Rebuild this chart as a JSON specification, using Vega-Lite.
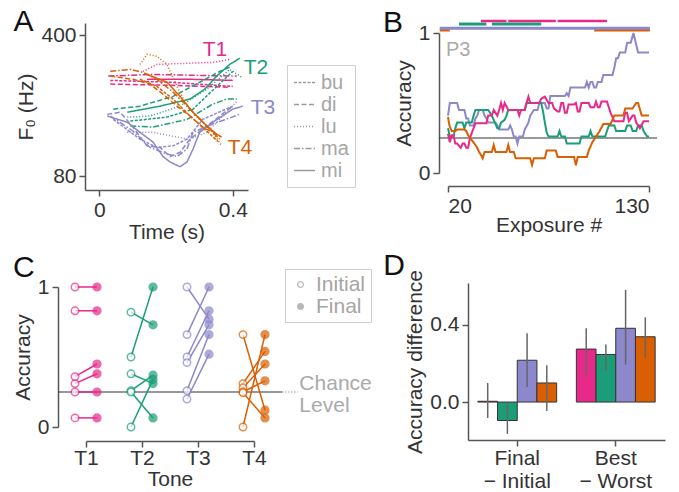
{
"$schema": "https://vega.github.io/schema/vega-lite/v6.json",
"autosize": {"type": "none"},
"padding": {"left": 85, "top": 23, "right": 594, "bottom": 469},
"background": "white",
"config": {
  "font": "Liberation Sans",
  "view": {"stroke": null},
  "axis": {"labelFontSize": 21, "titleFontSize": 21, "titleFontWeight": "normal", "labelColor": "#333", "titleColor": "#333", "domainColor": "#555", "tickColor": "#555", "domainWidth": 1.5, "tickWidth": 1.5, "tickSize": 6, "labelPadding": 3, "grid": false}
},
"resolve": {
  "scale": {"color": "independent", "fill": "independent", "stroke": "independent", "strokeDash": "independent"},
  "legend": {"color": "independent", "fill": "independent", "stroke": "independent", "strokeDash": "independent"}
},
"datasets": {
  "one": [{}],
  "f0": [
    {"k":"T1","s":"lu","t":0.131,"f":265},{"k":"T1","s":"lu","t":0.173,"f":287},{"k":"T1","s":"lu","t":0.272,"f":291},{"k":"T1","s":"lu","t":0.346,"f":294},{"k":"T1","s":"lu","t":0.391,"f":304},
    {"k":"T1","s":"ma","t":0.027,"f":251},{"k":"T1","s":"ma","t":0.152,"f":256},{"k":"T1","s":"ma","t":0.301,"f":253},{"k":"T1","s":"ma","t":0.412,"f":251},
    {"k":"T1","s":"di","t":0.033,"f":229},{"k":"T1","s":"di","t":0.212,"f":226},{"k":"T1","s":"di","t":0.391,"f":221},
    {"k":"T1","s":"mi","t":0.143,"f":242},{"k":"T1","s":"mi","t":0.272,"f":242},{"k":"T1","s":"mi","t":0.400,"f":239},
    {"k":"T1","s":"bu","t":0.033,"f":239},{"k":"T1","s":"bu","t":0.212,"f":234},{"k":"T1","s":"bu","t":0.400,"f":223},
    {"k":"T2","s":"mi","t":0.084,"f":166},{"k":"T2","s":"mi","t":0.182,"f":178},{"k":"T2","s":"mi","t":0.272,"f":193},{"k":"T2","s":"mi","t":0.316,"f":216},{"k":"T2","s":"mi","t":0.352,"f":251},{"k":"T2","s":"mi","t":0.391,"f":287},{"k":"T2","s":"mi","t":0.421,"f":308},
    {"k":"T2","s":"di","t":0.042,"f":172},{"k":"T2","s":"di","t":0.122,"f":178},{"k":"T2","s":"di","t":0.221,"f":199},{"k":"T2","s":"di","t":0.301,"f":234},{"k":"T2","s":"di","t":0.361,"f":265},{"k":"T2","s":"di","t":0.391,"f":278},
    {"k":"T2","s":"lu","t":0.084,"f":157},{"k":"T2","s":"lu","t":0.152,"f":159},{"k":"T2","s":"lu","t":0.242,"f":178},{"k":"T2","s":"lu","t":0.322,"f":216},{"k":"T2","s":"lu","t":0.391,"f":271},{"k":"T2","s":"lu","t":0.427,"f":248},
    {"k":"T2","s":"ma","t":0.093,"f":142},{"k":"T2","s":"ma","t":0.161,"f":140},{"k":"T2","s":"ma","t":0.263,"f":153},{"k":"T2","s":"ma","t":0.340,"f":182},{"k":"T2","s":"ma","t":0.382,"f":193},{"k":"T2","s":"ma","t":0.412,"f":193},
    {"k":"T2","s":"bu","t":0.093,"f":150},{"k":"T2","s":"bu","t":0.203,"f":157},{"k":"T2","s":"bu","t":0.281,"f":172},{"k":"T2","s":"bu","t":0.352,"f":223},{"k":"T2","s":"bu","t":0.400,"f":265},
    {"k":"T3","s":"mi","t":0.024,"f":159},{"k":"T3","s":"mi","t":0.084,"f":148},{"k":"T3","s":"mi","t":0.122,"f":132},{"k":"T3","s":"mi","t":0.161,"f":118},{"k":"T3","s":"mi","t":0.191,"f":100},{"k":"T3","s":"mi","t":0.212,"f":94},{"k":"T3","s":"mi","t":0.242,"f":89},{"k":"T3","s":"mi","t":0.263,"f":94},{"k":"T3","s":"mi","t":0.281,"f":109},{"k":"T3","s":"mi","t":0.301,"f":132},{"k":"T3","s":"mi","t":0.340,"f":148},{"k":"T3","s":"mi","t":0.400,"f":172},{"k":"T3","s":"mi","t":0.430,"f":178},
    {"k":"T3","s":"di","t":0.024,"f":162},{"k":"T3","s":"di","t":0.063,"f":166},{"k":"T3","s":"di","t":0.101,"f":140},{"k":"T3","s":"di","t":0.143,"f":113},{"k":"T3","s":"di","t":0.182,"f":111},{"k":"T3","s":"di","t":0.212,"f":100},{"k":"T3","s":"di","t":0.242,"f":105},{"k":"T3","s":"di","t":0.272,"f":122},{"k":"T3","s":"di","t":0.322,"f":142},{"k":"T3","s":"di","t":0.400,"f":178},
    {"k":"T3","s":"lu","t":0.084,"f":132},{"k":"T3","s":"lu","t":0.161,"f":132},{"k":"T3","s":"lu","t":0.221,"f":126},{"k":"T3","s":"lu","t":0.272,"f":122},{"k":"T3","s":"lu","t":0.322,"f":132},{"k":"T3","s":"lu","t":0.382,"f":166},{"k":"T3","s":"lu","t":0.412,"f":188},
    {"k":"T3","s":"ma","t":0.033,"f":159},{"k":"T3","s":"ma","t":0.101,"f":134},{"k":"T3","s":"ma","t":0.152,"f":111},{"k":"T3","s":"ma","t":0.203,"f":103},{"k":"T3","s":"ma","t":0.233,"f":100},{"k":"T3","s":"ma","t":0.263,"f":109},{"k":"T3","s":"ma","t":0.281,"f":132},{"k":"T3","s":"ma","t":0.340,"f":145},{"k":"T3","s":"ma","t":0.421,"f":162},
    {"k":"T3","s":"bu","t":0.042,"f":153},{"k":"T3","s":"bu","t":0.122,"f":122},{"k":"T3","s":"bu","t":0.173,"f":111},{"k":"T3","s":"bu","t":0.221,"f":113},{"k":"T3","s":"bu","t":0.263,"f":122},{"k":"T3","s":"bu","t":0.310,"f":153},{"k":"T3","s":"bu","t":0.400,"f":178},
    {"k":"T4","s":"mi","t":0.143,"f":256},{"k":"T4","s":"mi","t":0.203,"f":234},{"k":"T4","s":"mi","t":0.242,"f":199},{"k":"T4","s":"mi","t":0.281,"f":166},{"k":"T4","s":"mi","t":0.322,"f":142},{"k":"T4","s":"mi","t":0.352,"f":129},{"k":"T4","s":"mi","t":0.367,"f":125},
    {"k":"T4","s":"di","t":0.033,"f":251},{"k":"T4","s":"di","t":0.101,"f":242},{"k":"T4","s":"di","t":0.152,"f":229},{"k":"T4","s":"di","t":0.191,"f":204},{"k":"T4","s":"di","t":0.233,"f":178},{"k":"T4","s":"di","t":0.272,"f":159},{"k":"T4","s":"di","t":0.310,"f":140},{"k":"T4","s":"di","t":0.340,"f":132},{"k":"T4","s":"di","t":0.361,"f":126},
    {"k":"T4","s":"lu","t":0.122,"f":287},{"k":"T4","s":"lu","t":0.143,"f":322},{"k":"T4","s":"lu","t":0.173,"f":315},{"k":"T4","s":"lu","t":0.203,"f":287},{"k":"T4","s":"lu","t":0.233,"f":223},{"k":"T4","s":"lu","t":0.263,"f":178},{"k":"T4","s":"lu","t":0.301,"f":153},{"k":"T4","s":"lu","t":0.340,"f":132},{"k":"T4","s":"lu","t":0.367,"f":113},
    {"k":"T4","s":"ma","t":0.033,"f":265},{"k":"T4","s":"ma","t":0.093,"f":271},{"k":"T4","s":"ma","t":0.131,"f":262},{"k":"T4","s":"ma","t":0.173,"f":242},{"k":"T4","s":"ma","t":0.221,"f":209},{"k":"T4","s":"ma","t":0.272,"f":172},{"k":"T4","s":"ma","t":0.322,"f":142},{"k":"T4","s":"ma","t":0.361,"f":122},
    {"k":"T4","s":"bu","t":0.122,"f":242},{"k":"T4","s":"bu","t":0.173,"f":223},{"k":"T4","s":"bu","t":0.221,"f":193},{"k":"T4","s":"bu","t":0.272,"f":159},{"k":"T4","s":"bu","t":0.322,"f":134},{"k":"T4","s":"bu","t":0.355,"f":119}
  ],
  "f0lab": [
    {"k":"T1","t":0.310,"f":315},{"k":"T2","t":0.433,"f":256},{"k":"T3","t":0.454,"f":162},{"k":"T4","t":0.385,"f":103}
  ],
  "acc": [
    {"k":"T3","x":20,"a":0.41},{"k":"T3","x":21,"a":0.5},{"k":"T3","x":25,"a":0.5},{"k":"T3","x":26,"a":0.45},{"k":"T3","x":29,"a":0.45},{"k":"T3","x":30,"a":0.39},{"k":"T3","x":31,"a":0.39},{"k":"T3","x":32,"a":0.34},{"k":"T3","x":34,"a":0.34},{"k":"T3","x":35,"a":0.39},{"k":"T3","x":36,"a":0.41},{"k":"T3","x":37,"a":0.45},{"k":"T3","x":39,"a":0.45},{"k":"T3","x":40,"a":0.41},{"k":"T3","x":41,"a":0.39},{"k":"T3","x":42,"a":0.36},{"k":"T3","x":46,"a":0.36},{"k":"T3","x":47,"a":0.34},{"k":"T3","x":48,"a":0.31},{"k":"T3","x":53,"a":0.31},{"k":"T3","x":54,"a":0.34},{"k":"T3","x":55,"a":0.31},{"k":"T3","x":56,"a":0.26},{"k":"T3","x":57,"a":0.26},{"k":"T3","x":58,"a":0.21},{"k":"T3","x":59,"a":0.26},{"k":"T3","x":61,"a":0.26},{"k":"T3","x":62,"a":0.31},{"k":"T3","x":64,"a":0.36},{"k":"T3","x":65,"a":0.41},{"k":"T3","x":67,"a":0.45},{"k":"T3","x":69,"a":0.45},{"k":"T3","x":70,"a":0.5},{"k":"T3","x":73,"a":0.5},{"k":"T3","x":74,"a":0.46},{"k":"T3","x":75,"a":0.46},{"k":"T3","x":76,"a":0.55},{"k":"T3","x":84,"a":0.55},{"k":"T3","x":85,"a":0.57},{"k":"T3","x":86,"a":0.55},{"k":"T3","x":87,"a":0.61},{"k":"T3","x":95,"a":0.61},{"k":"T3","x":96,"a":0.65},{"k":"T3","x":97,"a":0.61},{"k":"T3","x":98,"a":0.65},{"k":"T3","x":99,"a":0.65},{"k":"T3","x":100,"a":0.61},{"k":"T3","x":101,"a":0.61},{"k":"T3","x":102,"a":0.65},{"k":"T3","x":104,"a":0.65},{"k":"T3","x":105,"a":0.7},{"k":"T3","x":110,"a":0.7},{"k":"T3","x":111,"a":0.75},{"k":"T3","x":112,"a":0.82},{"k":"T3","x":113,"a":0.82},{"k":"T3","x":114,"a":0.86},{"k":"T3","x":117,"a":0.86},{"k":"T3","x":118,"a":0.93},{"k":"T3","x":120,"a":0.93},{"k":"T3","x":121.5,"a":1.0},{"k":"T3","x":124,"a":0.86},{"k":"T3","x":130,"a":0.86},
    {"k":"T2","x":20,"a":0.32},{"k":"T2","x":21,"a":0.26},{"k":"T2","x":23,"a":0.26},{"k":"T2","x":24,"a":0.32},{"k":"T2","x":25,"a":0.36},{"k":"T2","x":28,"a":0.36},{"k":"T2","x":29,"a":0.32},{"k":"T2","x":30,"a":0.36},{"k":"T2","x":33,"a":0.36},{"k":"T2","x":34,"a":0.41},{"k":"T2","x":35,"a":0.45},{"k":"T2","x":42,"a":0.45},{"k":"T2","x":44,"a":0.41},{"k":"T2","x":45,"a":0.38},{"k":"T2","x":47,"a":0.32},{"k":"T2","x":48,"a":0.32},{"k":"T2","x":49,"a":0.36},{"k":"T2","x":51,"a":0.38},{"k":"T2","x":52,"a":0.41},{"k":"T2","x":53,"a":0.45},{"k":"T2","x":62,"a":0.45},{"k":"T2","x":63,"a":0.5},{"k":"T2","x":71,"a":0.5},{"k":"T2","x":72,"a":0.44},{"k":"T2","x":73,"a":0.36},{"k":"T2","x":74,"a":0.29},{"k":"T2","x":75,"a":0.26},{"k":"T2","x":80,"a":0.26},{"k":"T2","x":81,"a":0.3},{"k":"T2","x":82,"a":0.26},{"k":"T2","x":84,"a":0.26},{"k":"T2","x":85,"a":0.21},{"k":"T2","x":92,"a":0.21},{"k":"T2","x":93,"a":0.26},{"k":"T2","x":97,"a":0.26},{"k":"T2","x":98,"a":0.3},{"k":"T2","x":99,"a":0.26},{"k":"T2","x":106,"a":0.26},{"k":"T2","x":108,"a":0.34},{"k":"T2","x":111,"a":0.34},{"k":"T2","x":112,"a":0.3},{"k":"T2","x":117,"a":0.3},{"k":"T2","x":118,"a":0.34},{"k":"T2","x":120,"a":0.34},{"k":"T2","x":121,"a":0.3},{"k":"T2","x":123,"a":0.3},{"k":"T2","x":124,"a":0.34},{"k":"T2","x":126,"a":0.34},{"k":"T2","x":127,"a":0.3},{"k":"T2","x":129,"a":0.26},{"k":"T2","x":130,"a":0.26},
    {"k":"T1","x":20,"a":0.28},{"k":"T1","x":21,"a":0.22},{"k":"T1","x":22,"a":0.27},{"k":"T1","x":23,"a":0.27},{"k":"T1","x":24,"a":0.21},{"k":"T1","x":25,"a":0.21},{"k":"T1","x":27,"a":0.18},{"k":"T1","x":28,"a":0.21},{"k":"T1","x":29,"a":0.21},{"k":"T1","x":30,"a":0.18},{"k":"T1","x":31,"a":0.18},{"k":"T1","x":32,"a":0.25},{"k":"T1","x":34,"a":0.32},{"k":"T1","x":35,"a":0.355},{"k":"T1","x":41,"a":0.355},{"k":"T1","x":42,"a":0.41},{"k":"T1","x":44,"a":0.41},{"k":"T1","x":45,"a":0.45},{"k":"T1","x":47,"a":0.41},{"k":"T1","x":48,"a":0.45},{"k":"T1","x":49,"a":0.5},{"k":"T1","x":50,"a":0.45},{"k":"T1","x":51,"a":0.5},{"k":"T1","x":53,"a":0.45},{"k":"T1","x":58,"a":0.45},{"k":"T1","x":59,"a":0.41},{"k":"T1","x":60,"a":0.45},{"k":"T1","x":62,"a":0.45},{"k":"T1","x":63,"a":0.5},{"k":"T1","x":64,"a":0.545},{"k":"T1","x":65,"a":0.5},{"k":"T1","x":70,"a":0.5},{"k":"T1","x":71,"a":0.53},{"k":"T1","x":73,"a":0.545},{"k":"T1","x":75,"a":0.5},{"k":"T1","x":77,"a":0.5},{"k":"T1","x":78,"a":0.46},{"k":"T1","x":80,"a":0.44},{"k":"T1","x":81,"a":0.44},{"k":"T1","x":82,"a":0.5},{"k":"T1","x":83,"a":0.5},{"k":"T1","x":84,"a":0.43},{"k":"T1","x":85,"a":0.43},{"k":"T1","x":86,"a":0.49},{"k":"T1","x":89,"a":0.49},{"k":"T1","x":90,"a":0.5},{"k":"T1","x":91,"a":0.44},{"k":"T1","x":92,"a":0.44},{"k":"T1","x":93,"a":0.5},{"k":"T1","x":97,"a":0.5},{"k":"T1","x":98,"a":0.47},{"k":"T1","x":100,"a":0.47},{"k":"T1","x":101,"a":0.51},{"k":"T1","x":102,"a":0.47},{"k":"T1","x":103,"a":0.47},{"k":"T1","x":104,"a":0.51},{"k":"T1","x":107,"a":0.51},{"k":"T1","x":108,"a":0.47},{"k":"T1","x":109,"a":0.43},{"k":"T1","x":111,"a":0.37},{"k":"T1","x":116,"a":0.37},{"k":"T1","x":117,"a":0.43},{"k":"T1","x":118,"a":0.43},{"k":"T1","x":119,"a":0.37},{"k":"T1","x":121,"a":0.41},{"k":"T1","x":122,"a":0.41},{"k":"T1","x":123,"a":0.36},{"k":"T1","x":125,"a":0.32},{"k":"T1","x":127,"a":0.37},{"k":"T1","x":130,"a":0.37},
    {"k":"T4","x":20,"a":0.4},{"k":"T4","x":20.5,"a":0.36},{"k":"T4","x":21,"a":0.33},{"k":"T4","x":22,"a":0.3},{"k":"T4","x":24,"a":0.3},{"k":"T4","x":25,"a":0.31},{"k":"T4","x":29,"a":0.31},{"k":"T4","x":30,"a":0.3},{"k":"T4","x":31,"a":0.27},{"k":"T4","x":32,"a":0.25},{"k":"T4","x":33,"a":0.235},{"k":"T4","x":35,"a":0.2},{"k":"T4","x":36,"a":0.18},{"k":"T4","x":37,"a":0.15},{"k":"T4","x":38,"a":0.13},{"k":"T4","x":39,"a":0.105},{"k":"T4","x":40,"a":0.15},{"k":"T4","x":44,"a":0.15},{"k":"T4","x":45,"a":0.2},{"k":"T4","x":46,"a":0.15},{"k":"T4","x":52,"a":0.15},{"k":"T4","x":53,"a":0.2},{"k":"T4","x":54,"a":0.15},{"k":"T4","x":56,"a":0.15},{"k":"T4","x":57,"a":0.105},{"k":"T4","x":65,"a":0.105},{"k":"T4","x":66,"a":0.057},{"k":"T4","x":67,"a":0.105},{"k":"T4","x":73,"a":0.105},{"k":"T4","x":74,"a":0.16},{"k":"T4","x":79,"a":0.16},{"k":"T4","x":80,"a":0.115},{"k":"T4","x":89,"a":0.115},{"k":"T4","x":90,"a":0.055},{"k":"T4","x":91,"a":0.115},{"k":"T4","x":96,"a":0.115},{"k":"T4","x":97,"a":0.16},{"k":"T4","x":99,"a":0.22},{"k":"T4","x":101,"a":0.26},{"k":"T4","x":103,"a":0.3},{"k":"T4","x":105,"a":0.35},{"k":"T4","x":109,"a":0.35},{"k":"T4","x":111,"a":0.41},{"k":"T4","x":116,"a":0.41},{"k":"T4","x":117,"a":0.46},{"k":"T4","x":121,"a":0.46},{"k":"T4","x":123,"a":0.5},{"k":"T4","x":124,"a":0.5},{"k":"T4","x":126,"a":0.41},{"k":"T4","x":130,"a":0.41}
  ],
  "sig": [
    {"k":"T1","s":38,"e":52},{"k":"T1","s":53,"e":79},{"k":"T1","s":80,"e":107},
    {"k":"T2","s":26,"e":41},{"k":"T2","s":44,"e":71},
    {"k":"T3","s":15.5,"e":130.5},
    {"k":"T4","s":15.5,"e":21},{"k":"T4","s":100,"e":130.5}
  ],
  "pairs": [
    {"k":"T1","p":"a","Initial":1,"Final":1},{"k":"T1","p":"b","Initial":0.83,"Final":0.83},{"k":"T1","p":"c","Initial":0.36,"Final":0.45},{"k":"T1","p":"d","Initial":0.31,"Final":0.38},{"k":"T1","p":"e","Initial":0.25,"Final":0.25},{"k":"T1","p":"f","Initial":0.065,"Final":0.065},
    {"k":"T2","p":"a","Initial":0.82,"Final":0.73},{"k":"T2","p":"b","Initial":0.5,"Final":1},{"k":"T2","p":"c","Initial":0.38,"Final":0.31},{"k":"T2","p":"d","Initial":0.26,"Final":0.37},{"k":"T2","p":"e","Initial":0.25,"Final":0.065},{"k":"T2","p":"f","Initial":0.0,"Final":0.34},
    {"k":"T3","p":"a","Initial":1,"Final":0.77},{"k":"T3","p":"b","Initial":0.66,"Final":1},{"k":"T3","p":"c","Initial":0.5,"Final":0.83},{"k":"T3","p":"d","Initial":0.46,"Final":0.73},{"k":"T3","p":"e","Initial":0.26,"Final":0.66},{"k":"T3","p":"f","Initial":0.2,"Final":0.52},
    {"k":"T4","p":"a","Initial":0.66,"Final":0.12},{"k":"T4","p":"b","Initial":0.0,"Final":0.66},{"k":"T4","p":"c","Initial":0.31,"Final":0.54},{"k":"T4","p":"d","Initial":0.28,"Final":0.45},{"k":"T4","p":"e","Initial":0.25,"Final":0.33},{"k":"T4","p":"f","Initial":0.245,"Final":0.065}
  ],
  "diff": [
    {"g":"Final − Initial","k":"T1","v":0.004,"lo":-0.083,"hi":0.099},
    {"g":"Final − Initial","k":"T2","v":-0.096,"lo":-0.165,"hi":-0.003},
    {"g":"Final − Initial","k":"T3","v":0.217,"lo":0.078,"hi":0.357},
    {"g":"Final − Initial","k":"T4","v":0.099,"lo":-0.047,"hi":0.191},
    {"g":"Best − Worst","k":"T1","v":0.275,"lo":0.134,"hi":0.383},
    {"g":"Best − Worst","k":"T2","v":0.247,"lo":0.162,"hi":0.299},
    {"g":"Best − Worst","k":"T3","v":0.383,"lo":0.195,"hi":0.583},
    {"g":"Best − Worst","k":"T4","v":0.339,"lo":0.23,"hi":0.44}
  ]
},
"columns": 2,
"spacing": {"row": 93, "column": 186},
"bounds": "flush",
"align": "all",
"concat": [
  {
    "width": 163, "height": 167,
    "layer": [
      {
        "data": {"name": "f0"},
        "mark": {"type": "line", "strokeWidth": 1.5},
        "encoding": {
          "x": {"field": "t", "type": "quantitative", "scale": {"domain": [-0.0427, 0.4457], "nice": false, "zero": false}, "axis": {"values": [0, 0.4], "title": "Time (s)", "titlePadding": 1, "labelExpr": "datum.value == 0 ? '0' : '0.4'"}},
          "y": {"field": "f", "type": "quantitative", "scale": {"type": "log", "domain": [68.2, 460.8], "nice": false}, "axis": {"values": [80, 400], "format": "d", "title": "F₀ (Hz)"}},
          "color": {"field": "k", "type": "nominal", "scale": {"domain": ["T1","T2","T3","T4"], "range": ["#e7298a","#1b9e77","#8d87cb","#d95f02"]}, "legend": null},
          "strokeDash": {"field": "s", "type": "nominal", "scale": {"domain": ["bu","di","lu","ma","mi"], "range": [[3,1.5],[5,2.5],[1,2],[6,2,1.5,2],[1,0]]},
            "legend": {"orient": "none", "legendX": 202, "legendY": 42, "title": null, "strokeColor": "#cfcfcf", "fillColor": "white", "padding": 6, "symbolType": "stroke", "symbolStrokeColor": "#9a9a9a", "symbolStrokeWidth": 1.5, "symbolSize": 440, "labelFontSize": 20, "labelColor": "#a5a5a5", "labelOffset": 5, "rowPadding": 0}}
        }
      },
      {
        "data": {"name": "f0lab"},
        "mark": {"type": "text", "align": "left", "baseline": "alphabetic", "fontSize": 21},
        "encoding": {
          "x": {"field": "t", "type": "quantitative"},
          "y": {"field": "f", "type": "quantitative"},
          "text": {"field": "k"},
          "color": {"field": "k", "type": "nominal", "legend": null}
        }
      },
      {
        "data": {"name": "one"},
        "mark": {"type": "text", "align": "left", "baseline": "alphabetic", "fontSize": 30, "color": "#111"},
        "encoding": {
          "x": {"datum": -0.257, "type": "quantitative"},
          "y": {"datum": 419, "type": "quantitative"},
          "text": {"value": "A"}
        }
      }
    ]
  },
  {
    "width": 189, "height": 163,
    "layer": [
      {
        "data": {"name": "one"},
        "mark": {"type": "rule", "color": "#333", "strokeWidth": 1.2},
        "encoding": {
          "x": {"datum": 15.07, "type": "quantitative", "scale": {"domain": [20, 130], "range": [-20, 181], "nice": false, "zero": false}, "axis": {"values": [20, 130], "title": "Exposure #", "titlePadding": -2}},
          "x2": {"datum": 134.39},
          "y": {"datum": 0.25, "type": "quantitative", "scale": {"domain": [0, 1], "range": [150, 10], "nice": false, "zero": false}, "axis": {"values": [0, 1], "format": "d", "title": "Accuracy", "offset": 29}}
        }
      },
      {
        "data": {"name": "acc"},
        "mark": {"type": "line", "strokeWidth": 2},
        "encoding": {
          "x": {"field": "x", "type": "quantitative"},
          "y": {"field": "a", "type": "quantitative"},
          "color": {"field": "k", "type": "nominal", "scale": {"domain": ["T1","T2","T3","T4"], "range": ["#e7298a","#1b9e77","#8d87cb","#d95f02"]}, "legend": null}
        }
      },
      {
        "data": {"name": "sig"},
        "transform": [{"filter": "datum.k == 'T4'"}],
        "mark": {"type": "rule", "strokeWidth": 3, "strokeCap": "butt", "color": "#d95f02"},
        "encoding": {"x": {"field": "s", "type": "quantitative"}, "x2": {"field": "e"}, "y": {"datum": 1.0214, "type": "quantitative"}}
      },
      {
        "data": {"name": "sig"},
        "transform": [{"filter": "datum.k == 'T3'"}],
        "mark": {"type": "rule", "strokeWidth": 3, "strokeCap": "butt", "color": "#8d87cb"},
        "encoding": {"x": {"field": "s", "type": "quantitative"}, "x2": {"field": "e"}, "y": {"datum": 1.0336, "type": "quantitative"}}
      },
      {
        "data": {"name": "sig"},
        "transform": [{"filter": "datum.k == 'T2'"}],
        "mark": {"type": "rule", "strokeWidth": 3, "strokeCap": "butt", "color": "#1b9e77"},
        "encoding": {"x": {"field": "s", "type": "quantitative"}, "x2": {"field": "e"}, "y": {"datum": 1.064, "type": "quantitative"}}
      },
      {
        "data": {"name": "sig"},
        "transform": [{"filter": "datum.k == 'T1'"}],
        "mark": {"type": "rule", "strokeWidth": 2.5, "strokeCap": "butt", "color": "#e7298a"},
        "encoding": {"x": {"field": "s", "type": "quantitative"}, "x2": {"field": "e"}, "y": {"datum": 1.0857, "type": "quantitative"}}
      },
      {
        "data": {"name": "one"},
        "mark": {"type": "text", "align": "left", "baseline": "alphabetic", "fontSize": 20, "color": "#aaa"},
        "encoding": {
          "x": {"datum": 18.9, "type": "quantitative"},
          "y": {"datum": 0.836, "type": "quantitative"},
          "text": {"value": "P3"}
        }
      },
      {
        "data": {"name": "one"},
        "mark": {"type": "text", "align": "left", "baseline": "alphabetic", "fontSize": 30, "color": "#111"},
        "encoding": {
          "x": {"datum": -15.6, "type": "quantitative"},
          "y": {"datum": 1.007, "type": "quantitative"},
          "text": {"value": "B"}
        }
      }
    ]
  },
  {
    "width": 169, "height": 144,
    "resolve": {"scale": {"x": "independent"}, "axis": {"x": "independent"}},
    "layer": [
      {
        "data": {"name": "one"},
        "layer": [
          {
            "mark": {"type": "rule", "color": "#333", "strokeWidth": 1.2},
            "encoding": {
              "x": {"datum": 0.5, "type": "quantitative", "scale": {"domain": [1, 4], "range": [1, 169], "nice": false, "zero": false}, "axis": null},
              "x2": {"datum": 4.5},
              "y": {"datum": 0.25, "type": "quantitative", "scale": {"domain": [0, 1], "range": [144, 4], "nice": false, "zero": false}, "axis": {"values": [0, 1], "format": "d", "title": "Accuracy", "offset": 27}}
            }
          },
          {
            "mark": {"type": "rule", "color": "#999", "strokeWidth": 1.2, "strokeDash": [1.5, 1.5]},
            "encoding": {
              "x": {"datum": 4.5, "type": "quantitative"},
              "x2": {"datum": 4.78},
              "y": {"datum": 0.25, "type": "quantitative"}
            }
          },
          {
            "mark": {"type": "text", "align": "left", "baseline": "top", "fontSize": 21, "color": "#aaa", "lineHeight": 22},
            "encoding": {
              "x": {"datum": 4.81, "type": "quantitative"},
              "y": {"datum": 0.383, "type": "quantitative"},
              "text": {"value": ["Chance", "Level"]}
            }
          },
          {
            "mark": {"type": "text", "align": "left", "baseline": "alphabetic", "fontSize": 30, "color": "#111"},
            "encoding": {
              "x": {"datum": -0.304, "type": "quantitative"},
              "y": {"datum": 1.071, "type": "quantitative"},
              "text": {"value": "C"}
            }
          }
        ]
      },
      {
        "data": {"name": "pairs"},
        "layer": [
          {
            "mark": {"type": "rule", "strokeWidth": 1.5, "xOffset": -11, "x2Offset": 11},
            "encoding": {
              "x": {"field": "k", "type": "nominal", "scale": {"type": "point", "domain": ["T1","T2","T3","T4"], "range": [1, 169], "padding": 0}, "axis": {"title": "Tone", "labelAngle": 0, "offset": 14, "orient": "bottom", "labelPadding": 0, "titlePadding": 0}},
              "x2": {"field": "k"},
              "y": {"field": "Initial", "type": "quantitative"},
              "y2": {"field": "Final"},
              "stroke": {"field": "k", "type": "nominal", "scale": {"domain": ["T1","T2","T3","T4"], "range": ["#e7298a","#1b9e77","#8d87cb","#d95f02"]}, "legend": null}
            }
          },
          {
            "mark": {"type": "point", "shape": "circle", "filled": true, "fill": "white", "size": 55, "strokeWidth": 1.5, "xOffset": -11},
            "encoding": {
              "x": {"field": "k", "type": "nominal"},
              "y": {"field": "Initial", "type": "quantitative"},
              "stroke": {"field": "k", "type": "nominal", "legend": null}
            }
          },
          {
            "mark": {"type": "point", "shape": "circle", "filled": true, "size": 60, "strokeWidth": 1.5, "xOffset": 11},
            "encoding": {
              "x": {"field": "k", "type": "nominal"},
              "y": {"field": "Final", "type": "quantitative"},
              "stroke": {"field": "k", "type": "nominal", "legend": null},
              "fill": {"field": "k", "type": "nominal", "scale": {"domain": ["T1","T2","T3","T4"], "range": ["#e7298a","#1b9e77","#8d87cb","#d95f02"]}, "legend": null}
            }
          },
          {
            "transform": [{"filter": "false"}],
            "mark": {"type": "point", "shape": "circle", "filled": true, "stroke": "#9a9a9a", "strokeWidth": 1.2},
            "encoding": {
              "x": {"field": "k", "type": "nominal"},
              "y": {"field": "Final", "type": "quantitative"},
              "color": {"field": "ph", "type": "nominal", "scale": {"domain": ["Initial","Final"], "range": ["white", "#9a9a9a"]},
                "legend": {"orient": "none", "legendX": 200, "legendY": -14, "title": null, "strokeColor": "#cfcfcf", "fillColor": "white", "padding": 5, "symbolType": "circle", "symbolSize": 34, "symbolStrokeColor": "#9a9a9a", "symbolStrokeWidth": 1.2, "labelFontSize": 21, "labelColor": "#a5a5a5", "labelOffset": 5, "rowPadding": 0}}
            }
          }
        ]
      }
    ]
  },
  {
    "width": 197, "height": 157,
    "data": {"name": "diff"},
    "encoding": {
      "x": {"field": "g", "type": "nominal", "scale": {"domain": ["Final − Initial", "Best − Worst"], "paddingInner": 0, "paddingOuter": 0}, "axis": {"title": null, "labelAngle": 0, "labelFontSize": 21, "labelLineHeight": 23, "labelPadding": 1, "labelExpr": "datum.value == 'Final − Initial' ? ['Final', '− Initial'] : ['Best', '− Worst']"}}
    },
    "layer": [
      {"transform": [{"filter": "datum.k == 'T1'"}], "mark": {"type": "bar", "fill": "#e7298a", "stroke": "#333", "strokeWidth": 1, "width": {"band": 0.2}, "xOffset": -29.55},
       "encoding": {"y": {"field": "v", "type": "quantitative", "scale": {"domain": [-0.197, 0.618], "nice": false, "zero": false}, "axis": {"values": [0, 0.4], "format": ".1f", "title": "Accuracy difference"}}}},
      {"transform": [{"filter": "datum.k == 'T2'"}], "mark": {"type": "bar", "fill": "#1b9e77", "stroke": "#333", "strokeWidth": 1, "width": {"band": 0.2}, "xOffset": -9.85},
       "encoding": {"y": {"field": "v", "type": "quantitative"}}},
      {"transform": [{"filter": "datum.k == 'T3'"}], "mark": {"type": "bar", "fill": "#8d87cb", "stroke": "#333", "strokeWidth": 1, "width": {"band": 0.2}, "xOffset": 9.85},
       "encoding": {"y": {"field": "v", "type": "quantitative"}}},
      {"transform": [{"filter": "datum.k == 'T4'"}], "mark": {"type": "bar", "fill": "#d95f02", "stroke": "#333", "strokeWidth": 1, "width": {"band": 0.2}, "xOffset": 29.55},
       "encoding": {"y": {"field": "v", "type": "quantitative"}}},
      {"transform": [{"filter": "datum.k == 'T1'"}], "mark": {"type": "rule", "color": "#666", "strokeWidth": 1.5, "xOffset": -29.55},
       "encoding": {"y": {"field": "lo", "type": "quantitative"}, "y2": {"field": "hi"}}},
      {"transform": [{"filter": "datum.k == 'T2'"}], "mark": {"type": "rule", "color": "#666", "strokeWidth": 1.5, "xOffset": -9.85},
       "encoding": {"y": {"field": "lo", "type": "quantitative"}, "y2": {"field": "hi"}}},
      {"transform": [{"filter": "datum.k == 'T3'"}], "mark": {"type": "rule", "color": "#666", "strokeWidth": 1.5, "xOffset": 9.85},
       "encoding": {"y": {"field": "lo", "type": "quantitative"}, "y2": {"field": "hi"}}},
      {"transform": [{"filter": "datum.k == 'T4'"}], "mark": {"type": "rule", "color": "#666", "strokeWidth": 1.5, "xOffset": 29.55},
       "encoding": {"y": {"field": "lo", "type": "quantitative"}, "y2": {"field": "hi"}}},
      {"data": {"name": "one"}, "mark": {"type": "text", "align": "left", "baseline": "alphabetic", "fontSize": 30, "color": "#111", "dx": -134},
       "encoding": {"x": {"datum": "Final − Initial", "type": "nominal"}, "y": {"datum": 0.66, "type": "quantitative"}, "text": {"value": "D"}}}
    ]
  }
]
}
